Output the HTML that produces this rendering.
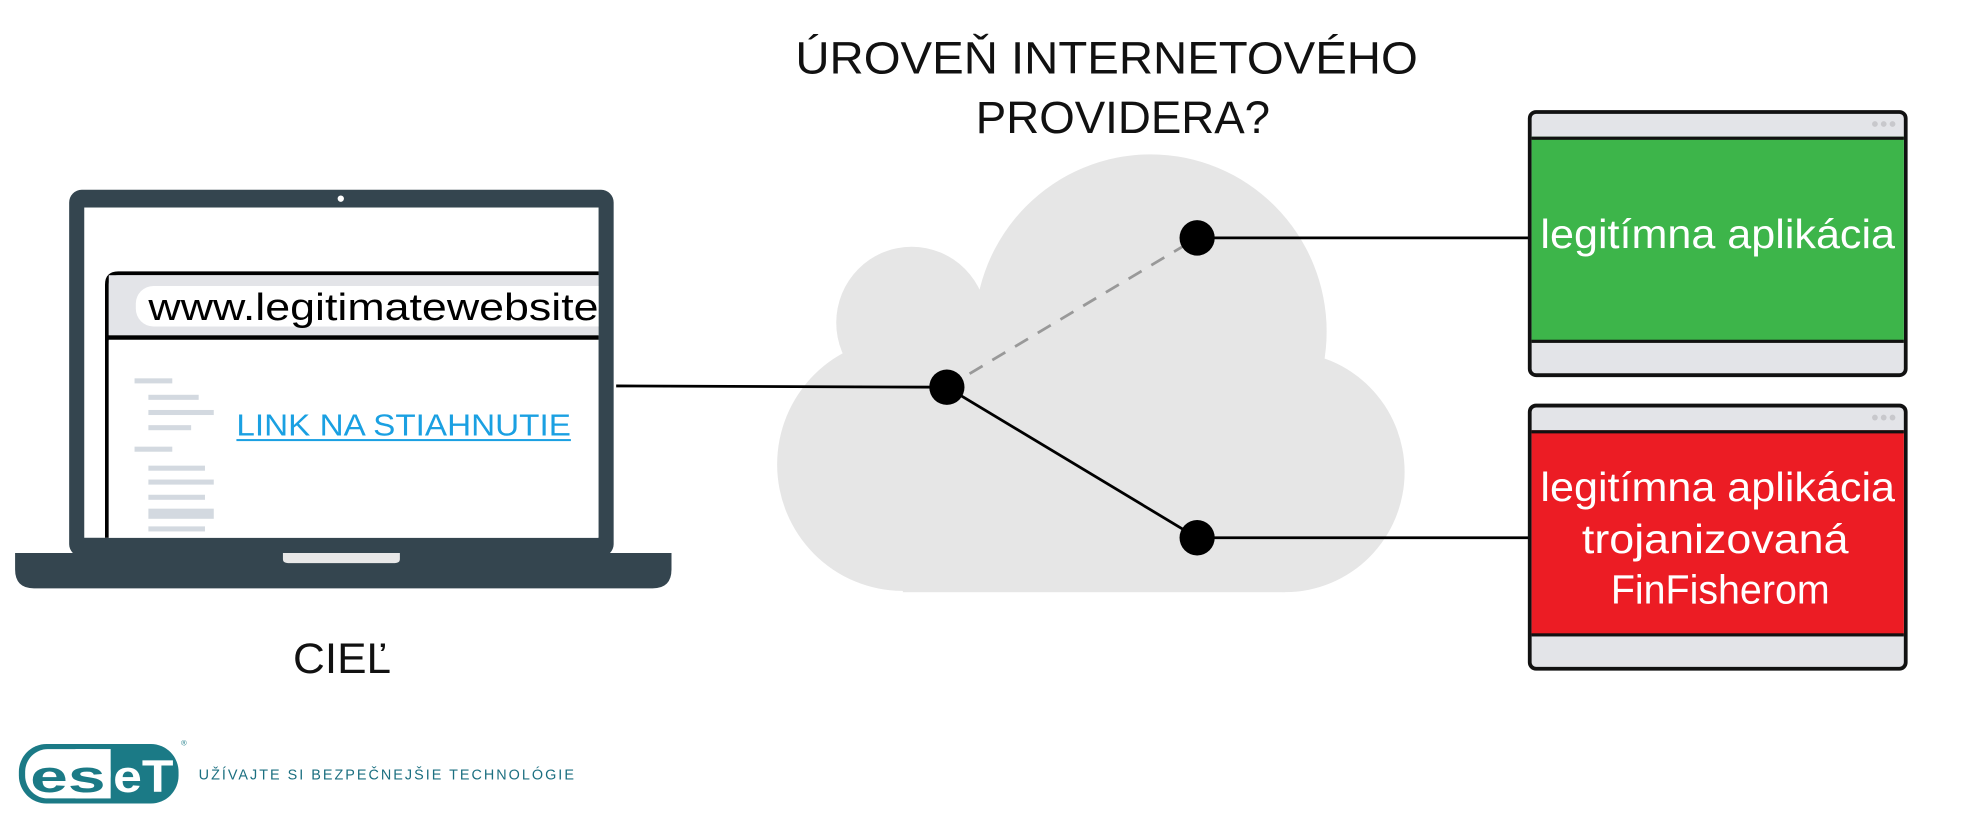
<!DOCTYPE html>
<html><head><meta charset="utf-8"><style>
html,body{margin:0;padding:0;background:#fff;}
svg{display:block;}
text{font-family:"Liberation Sans","DejaVu Sans",sans-serif;}
</style></head><body>
<svg width="1973" height="825" viewBox="0 0 1569 652" preserveAspectRatio="none" xmlns="http://www.w3.org/2000/svg">
<rect width="1569" height="652" fill="#fff"/>
<!-- title -->
<text x="880" y="58" font-size="36" text-anchor="middle" fill="#111" textLength="495" lengthAdjust="spacingAndGlyphs">ÚROVEŇ INTERNETOVÉHO</text>
<text x="893" y="105" font-size="36" text-anchor="middle" fill="#111" textLength="234" lengthAdjust="spacingAndGlyphs">PROVIDERA?</text>
<!-- cloud -->
<g fill="#e6e6e6">
<circle cx="915" cy="262" r="140"/>
<circle cx="725" cy="255" r="60"/>
<circle cx="718" cy="367" r="100"/>
<circle cx="1022" cy="373" r="95"/>
<rect x="718" y="280" width="304" height="188"/>
<rect x="700" y="250" width="60" height="80"/>
</g>
<!-- laptop -->
<rect x="55" y="150" width="433" height="290" rx="10" fill="#34454f"/>
<rect x="67" y="164" width="409" height="261" fill="#fff"/>
<circle cx="271" cy="157" r="2.5" fill="#fff"/>
<path d="M12 437 H534 V450 Q534 465 519 465 H27 Q12 465 12 450 Z" fill="#34454f"/>
<path d="M225 437 H318 V442 Q318 445 314 445 H229 Q225 445 225 442 Z" fill="#e8e8e8"/>
<!-- browser -->
<path d="M476 216 H94 Q85 216 85 225 V425" fill="none" stroke="#000" stroke-width="3"/>
<rect x="86.5" y="217.5" width="389.5" height="48" fill="#e3e4e8"/>
<rect x="86" y="265" width="390" height="3.5" fill="#000"/>
<rect x="108" y="226" width="368" height="32" rx="14" fill="#fff"/>
<rect x="460" y="226" width="16" height="32" fill="#fff"/>
<text x="118" y="253" font-size="30" fill="#000" textLength="358" lengthAdjust="spacingAndGlyphs">www.legitimatewebsite</text>
<rect x="86.5" y="269" width="389" height="156" fill="#fff"/>
<g fill="#d3d9e0">
<rect x="107" y="299" width="30" height="4"/>
<rect x="118" y="312" width="40" height="4"/>
<rect x="118" y="324" width="52" height="4"/>
<rect x="118" y="336" width="34" height="4"/>
<rect x="107" y="353" width="30" height="4"/>
<rect x="118" y="368" width="45" height="4"/>
<rect x="118" y="379" width="52" height="4"/>
<rect x="118" y="391" width="45" height="4"/>
<rect x="118" y="402" width="52" height="8"/>
<rect x="118" y="416" width="45" height="4"/>
</g>
<text x="188" y="344" font-size="24" fill="#1aa0e2" textLength="266" lengthAdjust="spacingAndGlyphs">LINK NA STIAHNUTIE</text>
<rect x="188" y="347" width="266" height="1.6" fill="#1aa0e2"/>
<text x="272" y="532" font-size="34" text-anchor="middle" fill="#111" textLength="78" lengthAdjust="spacingAndGlyphs">CIEĽ</text>
<!-- connectors -->
<line x1="490" y1="305" x2="753" y2="306" stroke="#000" stroke-width="2.2"/>
<line x1="753" y1="306" x2="952" y2="188" stroke="#999" stroke-width="2.2" stroke-dasharray="12,9"/>
<line x1="753" y1="306" x2="952" y2="425" stroke="#000" stroke-width="2.2"/>
<line x1="952" y1="188" x2="1216" y2="188" stroke="#000" stroke-width="2.2"/>
<line x1="952" y1="425" x2="1216" y2="425" stroke="#000" stroke-width="2.2"/>
<circle cx="753" cy="306" r="14" fill="#000"/>
<circle cx="952" cy="188" r="14" fill="#000"/>
<circle cx="952" cy="425" r="14" fill="#000"/>
<!-- green window -->
<rect x="1216.5" y="88.5" width="299" height="208" rx="5" fill="#e3e4e8" stroke="#111" stroke-width="3"/>
<rect x="1218" y="108" width="296" height="162" fill="#3db54a"/>
<rect x="1218" y="108" width="296" height="2.5" fill="#111"/>
<rect x="1218" y="268.5" width="296" height="2.5" fill="#111"/>
<g fill="#c8c8cc"><circle cx="1491" cy="98" r="2.3"/><circle cx="1498" cy="98" r="2.3"/><circle cx="1505" cy="98" r="2.3"/></g>
<text x="1366" y="196" font-size="32" text-anchor="middle" fill="#fff" textLength="282" lengthAdjust="spacingAndGlyphs">legitímna aplikácia</text>
<!-- red window -->
<rect x="1216.5" y="320.5" width="299" height="208" rx="5" fill="#e3e4e8" stroke="#111" stroke-width="3"/>
<rect x="1218" y="340" width="296" height="162" fill="#ec1c24"/>
<rect x="1218" y="340" width="296" height="2.5" fill="#111"/>
<rect x="1218" y="500.5" width="296" height="2.5" fill="#111"/>
<g fill="#c8c8cc"><circle cx="1491" cy="330" r="2.3"/><circle cx="1498" cy="330" r="2.3"/><circle cx="1505" cy="330" r="2.3"/></g>
<text x="1366" y="396" font-size="32" text-anchor="middle" fill="#fff" textLength="282" lengthAdjust="spacingAndGlyphs">legitímna aplikácia</text>
<text x="1364" y="437" font-size="32" text-anchor="middle" fill="#fff" textLength="212" lengthAdjust="spacingAndGlyphs">trojanizovaná</text>
<text x="1368" y="477" font-size="32" text-anchor="middle" fill="#fff" textLength="174" lengthAdjust="spacingAndGlyphs">FinFisherom</text>
<!-- ESET logo -->
<rect x="15" y="588" width="127" height="47" rx="22" fill="#1b7a86"/>
<rect x="20" y="592" width="68" height="39" rx="18" fill="#fff"/>
<rect x="60" y="592" width="28" height="39" fill="#fff"/>
<text x="24" y="626" font-size="36" font-weight="bold" fill="#1b7a86" textLength="60" lengthAdjust="spacingAndGlyphs">es</text>
<text x="90" y="626" font-size="36" font-weight="bold" fill="#fff" textLength="48" lengthAdjust="spacingAndGlyphs">eT</text>
<text x="144" y="589" font-size="6" fill="#1b7a86">®</text>
<text x="158" y="616" font-size="11.5" fill="#1b6f80" letter-spacing="1.6" textLength="300" lengthAdjust="spacingAndGlyphs">UŽÍVAJTE SI BEZPEČNEJŠIE TECHNOLÓGIE</text>
</svg>
</body></html>
